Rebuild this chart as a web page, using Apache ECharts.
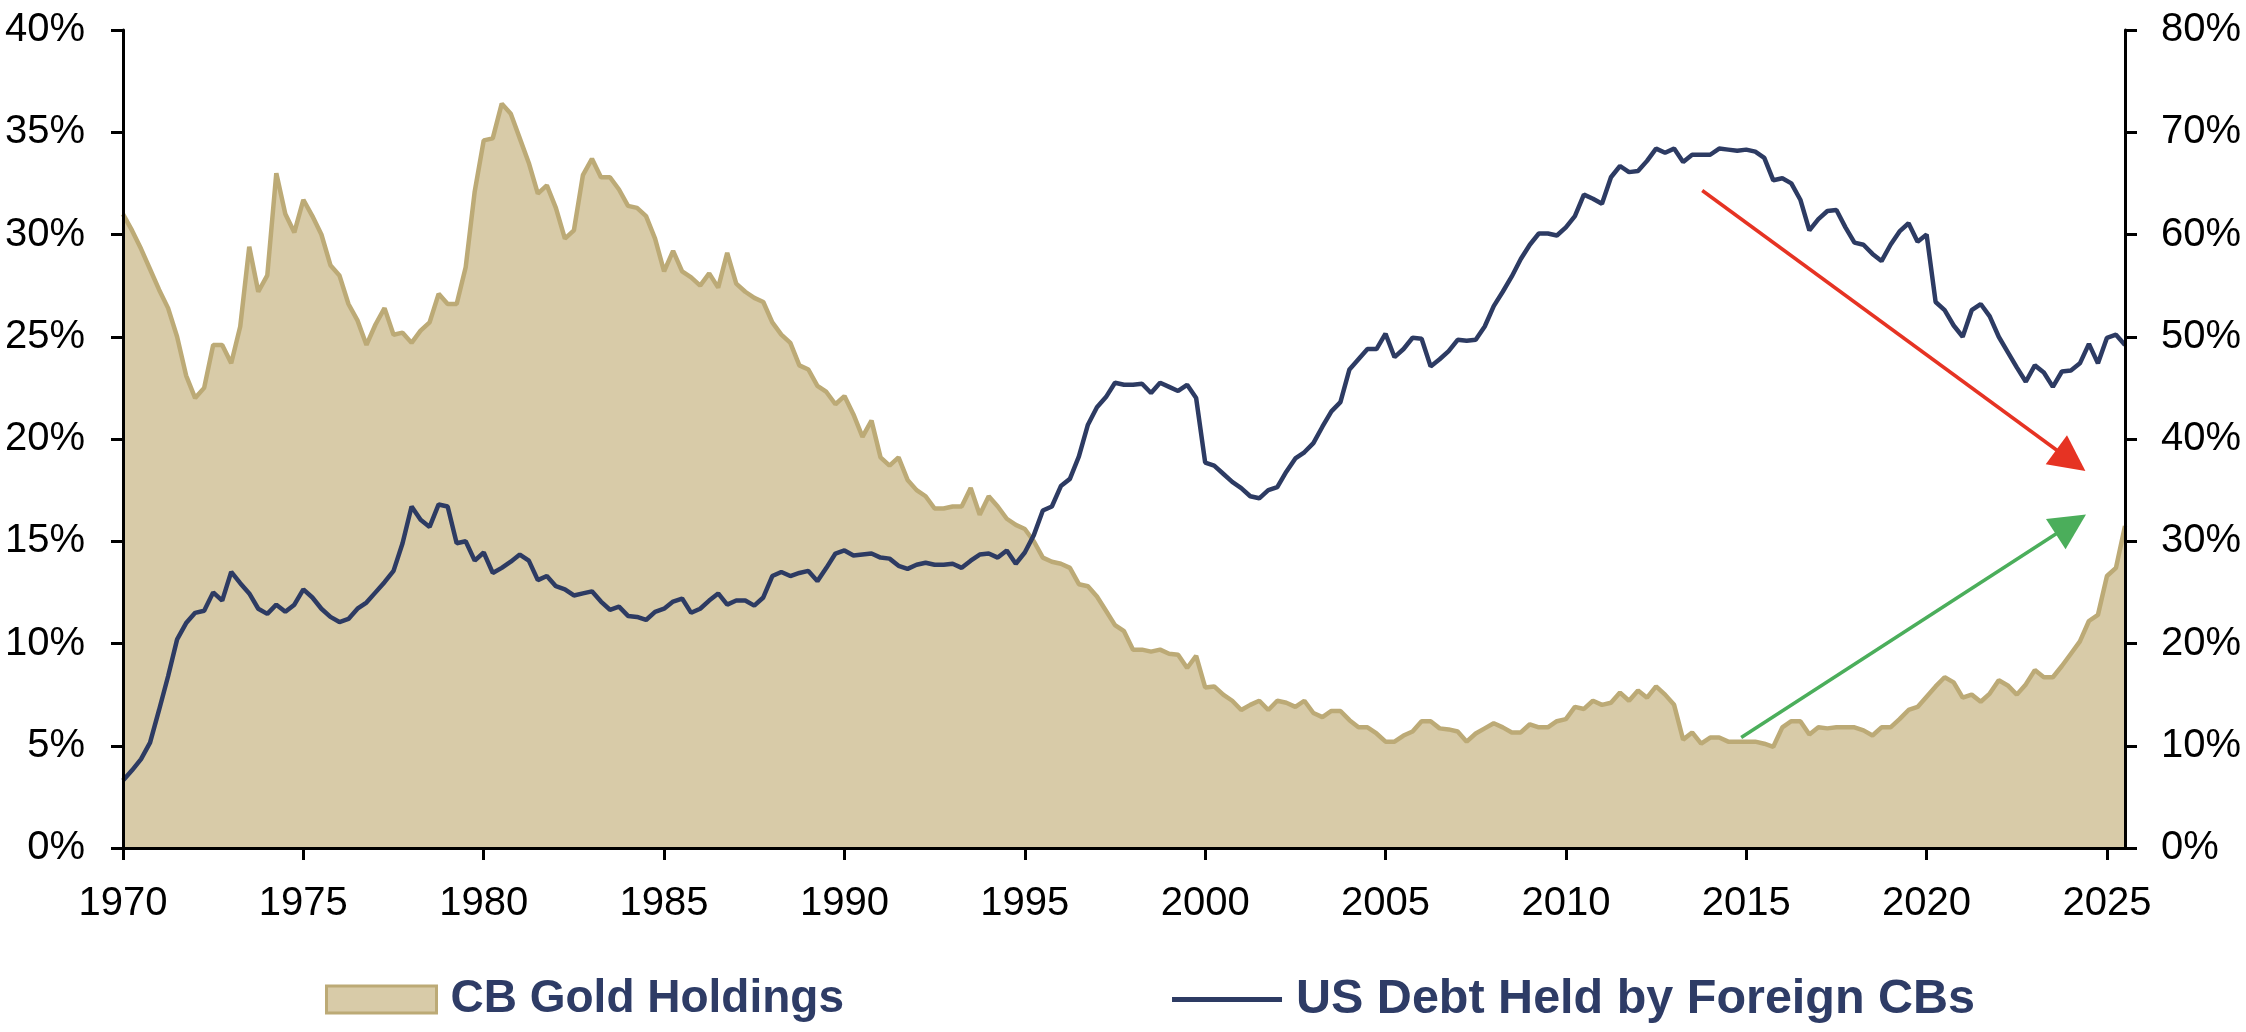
<!DOCTYPE html>
<html>
<head>
<meta charset="utf-8">
<script src="https://cdn.jsdelivr.net/npm/echarts@6/dist/echarts.min.js"></script>
<style>
html,body{margin:0;padding:0;background:#fff;}
#chart{width:2246px;height:1032px;}
</style>
</head>
<body>
<div id="chart"></div>
<script>
// quarterly data, first point 1970 Q1
var startYear = 1970;
var yearTicks = [1970,1975,1980,1985,1990,1995,2000,2005,2010,2015,2020,2025];

// CB gold holdings, % (left axis)
var goldHoldings = [
	31.0,30.2,29.3,28.3, 27.3,26.4,25.0,23.1, 22.0,22.5,24.6,24.6, 23.7,25.5,29.4,27.2, 28.0,33.0,31.0,30.1,
	31.7,30.9,30.0,28.5, 28.0,26.6,25.8,24.6, 25.6,26.4,25.1,25.2, 24.7,25.3,25.7,27.1, 26.6,26.6,28.4,32.1,
	34.6,34.7,36.4,35.9, 34.7,33.5,32.0,32.4, 31.3,29.8,30.2,32.9, 33.7,32.8,32.8,32.2, 31.4,31.3,30.9,29.8,
	28.2,29.2,28.2,27.9, 27.5,28.1,27.4,29.1, 27.6,27.2,26.9,26.7, 25.7,25.1,24.7,23.6, 23.4,22.6,22.3,21.7,
	22.1,21.2,20.1,20.9, 19.1,18.7,19.1,18.0, 17.5,17.2,16.6,16.6, 16.7,16.7,17.6,16.3, 17.2,16.7,16.1,15.8,
	15.6,15.0,14.2,14.0, 13.9,13.7,12.9,12.8, 12.3,11.6,10.9,10.6, 9.7,9.7,9.6,9.7, 9.5,9.45,8.8,9.4,
	7.85,7.9,7.5,7.2, 6.75,7.0,7.2,6.75, 7.2,7.1,6.9,7.2, 6.6,6.4,6.7,6.7, 6.25,5.9,5.9,5.6,
	5.2,5.2,5.5,5.7, 6.2,6.2,5.85,5.8, 5.7,5.2,5.6,5.85, 6.1,5.9,5.65,5.65, 6.05,5.9,5.9,6.2,
	6.3,6.9,6.8,7.2, 7.0,7.1,7.6,7.2, 7.7,7.35,7.9,7.5, 7.0,5.3,5.65,5.1, 5.4,5.4,5.2,5.2,
	5.2,5.2,5.1,4.95, 5.9,6.2,6.2,5.55, 5.9,5.85,5.9,5.9, 5.9,5.75,5.5,5.9, 5.9,6.3,6.75,6.9,
	7.4,7.9,8.35,8.1, 7.35,7.5,7.15,7.55, 8.2,7.95,7.5,8.0, 8.7,8.35,8.35,8.9, 9.5,10.1,11.1,11.4,
	13.3,13.7,15.75
];

// US debt held by foreign CBs, % (right axis)
var debtForeignCBs = [
	6.6,7.6,8.7,10.3, 13.5,16.8,20.4,22.0, 23.0,23.2,25.0,24.2, 27.0,25.9,24.9,23.4, 22.9,23.8,23.1,23.8,
	25.3,24.5,23.4,22.6, 22.1,22.4,23.4,24.0, 25.0,26.0,27.1,29.8, 33.4,32.1,31.4,33.6, 33.4,29.8,30.0,28.1,
	28.9,26.9,27.4,28.0, 28.7,28.1,26.2,26.6, 25.6,25.3,24.7,24.9, 25.1,24.1,23.3,23.6, 22.7,22.6,22.3,23.1,
	23.4,24.1,24.4,23.0, 23.4,24.2,24.9,23.8, 24.2,24.2,23.7,24.5, 26.6,27.0,26.6,26.9, 27.1,26.1,27.4,28.8,
	29.1,28.6,28.7,28.8, 28.4,28.3,27.6,27.3, 27.7,27.9,27.7,27.7, 27.8,27.4,28.1,28.7, 28.8,28.4,29.1,27.8,
	28.9,30.6,33.0,33.4, 35.4,36.1,38.3,41.4, 43.1,44.1,45.5,45.3, 45.3,45.4,44.5,45.5, 45.1,44.7,45.3,44.0,
	37.7,37.4,36.6,35.8, 35.2,34.4,34.2,35.0, 35.3,36.8,38.1,38.7, 39.6,41.2,42.7,43.6, 46.8,47.8,48.8,48.8,
	50.3,48.0,48.8,49.9, 49.8,47.1,47.8,48.6, 49.7,49.6,49.7,51.0, 53.0,54.4,55.9,57.6, 59.0,60.1,60.1,59.9,
	60.7,61.8,63.9,63.5, 63.0,65.6,66.7,66.1, 66.2,67.2,68.4,68.0, 68.4,67.1,67.8,67.8, 67.8,68.4,68.3,68.2,
	68.3,68.1,67.5,65.3, 65.5,65.0,63.4,60.4, 61.5,62.3,62.4,60.7, 59.2,59.0,58.1,57.4, 59.0,60.3,61.1,59.3,
	60.0,53.4,52.6,51.1, 50.0,52.6,53.2,52.0, 50.0,48.5,47.0,45.6, 47.2,46.5,45.1,46.6, 46.7,47.4,49.3,47.4,
	49.9,50.2,49.2
];

// arrows: [year, value]
var redArrow = [[2013.78, 64.3], [2024.0, 37.9]];     // right axis
var greenArrow = [[2014.86, 5.4], [2024.0, 15.83]];   // left axis

function toPairs(arr){
	var out = [];
	for(var i=0;i<arr.length;i++){
		out.push([startYear + i*0.25, arr[i]]);
	}
	return out;
}

var fontFam = "'Liberation Sans', Arial, sans-serif";
var goldLine = '#BCAA76';
var goldFill = '#D8CBA8';
var navy = '#2D3B63';

var myChart = echarts.init(document.getElementById('chart'));
var option = {
	animation:false,
	grid:{left:123,right:121,top:30,bottom:184},
	legend:{
		left:320,
		top:970,
		itemWidth:110,
		itemHeight:27,
		itemGap:328,
		textStyle:{fontFamily:fontFam,fontSize:46,fontWeight:'bold',color:'#2E3C66',padding:[0,0,0,9]},
		data:[
			{name:'CB Gold Holdings',icon:'rect',itemStyle:{color:goldFill,borderColor:goldLine,borderWidth:3}},
			{name:'US Debt Held by Foreign CBs',icon:'path://M0,0H110V5H0Z',itemStyle:{color:navy},
				textStyle:{fontSize:48.5}}
		]
	},
	xAxis:{
		type:'value',
		min:1970,
		max:2025.5,
		interval:5,
		z:10,
		splitLine:{show:false},
		axisLine:{lineStyle:{color:'#000',width:3}},
		axisTick:{length:12,lineStyle:{color:'#000',width:3},customValues:yearTicks},
		axisLabel:{fontFamily:fontFam,fontSize:40,color:'#000',margin:36,customValues:yearTicks,
			formatter:function(v){return String(v);}}
	},
	yAxis:[{
		type:'value',
		min:0,
		max:40,
		interval:5,
		z:10,
		splitLine:{show:false},
		axisLine:{show:true,lineStyle:{color:'#000',width:3}},
		axisTick:{show:true,length:12,lineStyle:{color:'#000',width:3}},
		axisLabel:{fontFamily:fontFam,fontSize:40,color:'#000',margin:38,formatter:'{value}%'}
	},{
		type:'value',
		position:'right',
		min:0,
		max:80,
		interval:10,
		z:10,
		splitLine:{show:false},
		axisLine:{show:true,lineStyle:{color:'#000',width:3}},
		axisTick:{show:true,length:12,lineStyle:{color:'#000',width:3}},
		axisLabel:{fontFamily:fontFam,fontSize:40,color:'#000',margin:36,formatter:'{value}%'}
	}],
	series:[{
		name:'CB Gold Holdings',
		type:'line',
		yAxisIndex:0,
		symbol:'none',
		data:toPairs(goldHoldings),
		lineStyle:{color:goldLine,width:4.5},
		itemStyle:{color:goldLine},
		areaStyle:{color:goldFill,opacity:1},
		markLine:{
			silent:true,
			symbol:['none','triangle'],
			symbolSize:[36,36],
			label:{show:false},
			lineStyle:{color:'#4BAE5B',width:3.5,type:'solid'},
			data:[[{coord:greenArrow[0]},{coord:greenArrow[1]}]]
		}
	},{
		name:'US Debt Held by Foreign CBs',
		type:'line',
		yAxisIndex:1,
		symbol:'none',
		data:toPairs(debtForeignCBs),
		lineStyle:{color:navy,width:4.5},
		itemStyle:{color:navy},
		markLine:{
			silent:true,
			symbol:['none','triangle'],
			symbolSize:[36,36],
			label:{show:false},
			lineStyle:{color:'#E63323',width:3.5,type:'solid'},
			data:[[{coord:redArrow[0]},{coord:redArrow[1]}]]
		}
	}]
};
myChart.setOption(option);
</script>
</body>
</html>
